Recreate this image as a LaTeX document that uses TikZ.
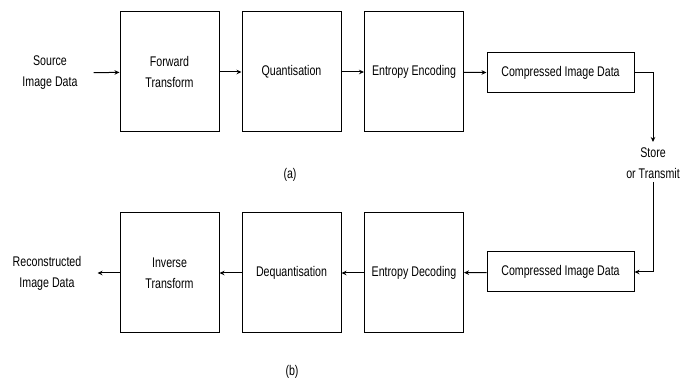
\documentclass[tikz,border=0pt]{standalone}
\usepackage{fontspec}
\setmainfont{Liberation Sans}[FakeStretch=0.76]
\usetikzlibrary{arrows.meta}
\tikzset{
    block/.style={draw, line width=1pt, minimum width=99pt, minimum height=120pt, inner sep=2pt, align=center},
    datab/.style={draw, line width=1pt, minimum width=147pt, minimum height=40pt, inner sep=2pt},
    term/.style={align=center, inner xsep=16pt},
}
\begin{document}
\begin{tikzpicture}[x=1pt, y=1pt, >={Stealth[length=5pt,width=4.5pt]},
    every node/.style={font=\fontsize{14pt}{21pt}\selectfont}]
\useasboundingbox (0,0) rectangle (692,382);

% compression (a)
\node[term]  (S)  at (50,309)    {Source\\Image Data};
\node[block] (A1) at (169.5,310) {Forward\\Transform};
\node[block] (A2) at (291.5,310) {Quantisation};
\node[block] (A3) at (414,310)   {Entropy Encoding};
\node[datab] (A4) at (560.5,309) {Compressed Image Data};
\node (LA) at (290,207) {(a)};

\node[align=center] (ST) at (653,219) {Store\\or Transmit};

% decompression (b)
\node[datab] (B4) at (560.5,110) {Compressed Image Data};
\node[block] (B3) at (414,109)   {Entropy Decoding};
\node[block] (B2) at (291.5,109) {Dequantisation};
\node[block] (B1) at (169.5,109) {Inverse\\Transform};
\node[term]  (R)  at (47,109)    {Reconstructed\\Image Data};
\node (LB) at (292,10) {(b)};

\path[line width=1pt]
    (S)  edge[->] (A1)
    (A1) edge[->] (A2)
    (A2) edge[->] (A3)
    (A3) edge[->] (A4)
    (B4) edge[->] (B3)
    (B3) edge[->] (B2)
    (B2) edge[->] (B1)
    (B1) edge[->] (R);
\draw[->, line width=1pt] (A4.east) -| ([yshift=2pt]ST.north);
\draw[->, line width=1pt] (ST.south) |- (B4.east);
\end{tikzpicture}
\end{document}
